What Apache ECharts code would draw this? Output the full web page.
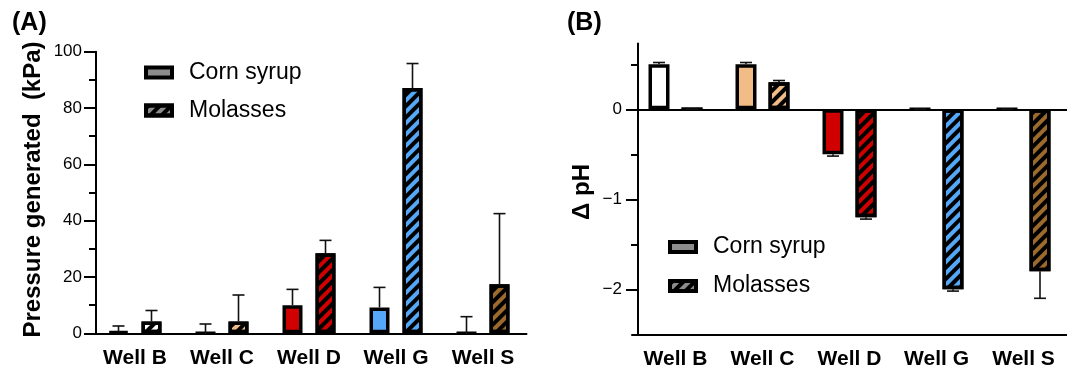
<!DOCTYPE html>
<html>
<head>
<meta charset="utf-8">
<script src="https://cdn.jsdelivr.net/npm/echarts@6/dist/echarts.min.js"></script>
<style>
html,body{margin:0;padding:0;background:#fff;}
#c{width:1067px;height:371px;}
</style>
</head>
<body>
<div id="c"></div>
<script>
// ---- data ----
var wells = ['Well B', 'Well C', 'Well D', 'Well G', 'Well S'];
var wellColors = ['#FFFFFF', '#F2BC86', '#D10000', '#55A8F7', '#9B6A2C'];
var seriesNames = ['Corn syrup', 'Molasses'];

var pressureCorn = [0.5, 0, 10.0, 9.2, 0];
var pressureCornErr = [2.1, 3.3, 5.6, 7.1, 5.9];
var pressureMol = [4.2, 4.2, 28.4, 87.1, 17.4];
var pressureMolErr = [3.9, 9.4, 4.6, 8.7, 25.1];

var phCorn = [0.5, 0.5, -0.5, 0, 0];
var phCornErr = [0.02, 0.02, 0.02, 0, 0];
var phMol = [0, 0.3, -1.2, -2.0, -1.8];
var phMolErr = [0, 0.02, 0.02, 0.02, 0.3];

var phMajorTicks = [0, -1, -2];
var phMinorTicks = [0.5, -0.5, -1.5];

// ---- style ----
var FONT = 'Liberation Sans, Arial, Helvetica, sans-serif';
var hatch = {symbol: 'rect', symbolSize: 1, dashArrayX: [1, 0], dashArrayY: [3.5, 3.5], rotation: -Math.PI / 4, color: '#000'};
var BW = 20, GAP = 13;      // panel A bar width / gap (px)
var BW2 = 21, GAP2 = 12;    // panel B

function coloredData(vals) {
  return vals.map(function (v, i) { return {value: v, itemStyle: {color: wellColors[i]}}; });
}
function errSeries(name, vals, errs, xi, yi, off) {
  return {
    type: 'custom', name: name + ' err', xAxisIndex: xi, yAxisIndex: yi, z: 5,
    data: vals.map(function (v, i) { return [i, v, errs[i]]; }),
    renderItem: function (params, api) {
      var i = api.value(0), v = api.value(1), e = api.value(2);
      var end = v >= 0 ? v + e : v - e;
      var p0 = api.coord([i, v]), p1 = api.coord([i, end]);
      var x = p0[0] + off;
      return {type: 'group', children: [
        {type: 'line', shape: {x1: x, y1: p0[1], x2: x, y2: p1[1]}, style: {stroke: '#111', lineWidth: 1.6}},
        {type: 'line', shape: {x1: x - 6, y1: p1[1], x2: x + 6, y2: p1[1]}, style: {stroke: '#111', lineWidth: 1.6}}
      ]};
    }
  };
}
function barSeries(name, vals, xi, yi, bw, gap, decal) {
  var s = {
    type: 'bar', name: name, xAxisIndex: xi, yAxisIndex: yi,
    barWidth: bw, barGap: (gap / bw * 100) + '%',
    data: coloredData(vals),
    itemStyle: {borderColor: '#000', borderWidth: 3.5}
  };
  if (decal) s.itemStyle.decal = decal;
  return s;
}
var axisLineStyle = {color: '#000', width: 2};
var tickStyle = {width: 2, color: '#000'};
function legendCfg(left, top, gap) {
  return {orient: 'vertical', left: left, top: top, padding: 0, icon: 'rect',
    itemWidth: 26, itemHeight: 10, itemGap: gap,
    textStyle: {fontSize: 23, color: '#000', fontFamily: FONT, padding: [0, 0, 0, 12]},
    data: seriesNames.map(function (n) {
      return {name: n, icon: 'rect', itemStyle: {color: '#8c8c8c', borderColor: '#000', borderWidth: 4}};
    })};
}
function catAxis(grid, extra) {
  var a = {type: 'category', gridIndex: grid, data: wells,
    axisLine: {onZero: false, lineStyle: axisLineStyle},
    axisTick: {alignWithLabel: true, length: 10, lineStyle: tickStyle},
    axisLabel: {fontSize: 21, fontWeight: 'bold', color: '#000', margin: 14, fontFamily: FONT}};
  for (var k in extra) a[k] = extra[k];
  return a;
}
function minusFmt(v) { return v < 0 ? '\u2212' + (-v) : String(v); }

var option = {
  animation: false,
  textStyle: {fontFamily: FONT},
  graphic: [
    {type: 'text', left: 12, top: 11, style: {text: '(A)', font: 'bold 25px ' + FONT, fill: '#000'}},
    {type: 'text', left: 567, top: 11, style: {text: '(B)', font: 'bold 25px ' + FONT, fill: '#000'}}
  ],
  legend: [legendCfg(144, 61, 15), legendCfg(668, 235.5, 16)],
  grid: [
    {left: 91.5, width: 435, top: 51.7, height: 281.6},
    {left: 632, width: 445, top: 43.6, height: 290.7}
  ],
  xAxis: [
    catAxis(0, {}),
    catAxis(1, {position: 'bottom'}),
    {type: 'category', gridIndex: 1, data: wells,
     axisLine: {onZero: true, lineStyle: axisLineStyle}, axisTick: {show: false}, axisLabel: {show: false}}
  ],
  yAxis: [
    {type: 'value', gridIndex: 0, min: 0, max: 100, interval: 20, offset: -4.5,
     name: 'Pressure generated  (kPa)', nameLocation: 'middle', nameGap: 51,
     nameTextStyle: {fontSize: 24, fontWeight: 'bold', color: '#000', fontFamily: FONT, padding: [0, 0, 0, 6]},
     splitLine: {show: false},
     axisLine: {show: true, lineStyle: axisLineStyle},
     axisTick: {show: true, length: 12, lineStyle: tickStyle},
     minorTick: {show: true, splitNumber: 2, length: 7, lineStyle: tickStyle},
     axisLabel: {fontSize: 17, color: '#000', margin: 14, fontFamily: FONT}},
    {type: 'value', gridIndex: 1, position: 'left', min: -2.5, max: 0.73, offset: -6,
     name: 'Δ pH', nameLocation: 'middle', nameGap: 44,
     nameTextStyle: {fontSize: 24, fontWeight: 'bold', color: '#000', fontFamily: FONT, padding: [0, 6, 0, 0]},
     splitLine: {show: false},
     axisLine: {show: true, onZero: false, lineStyle: axisLineStyle},
     axisTick: {show: true, length: 12, customValues: phMajorTicks, lineStyle: tickStyle},
     axisLabel: {fontSize: 17, color: '#000', margin: 16, fontFamily: FONT, customValues: phMajorTicks, formatter: minusFmt}},
    {type: 'value', gridIndex: 1, position: 'left', min: -2.5, max: 0.73, offset: -6,
     splitLine: {show: false},
     axisLine: {show: false, onZero: false},
     axisTick: {show: true, length: 7, customValues: phMinorTicks, lineStyle: tickStyle},
     axisLabel: {show: false}}
  ],
  series: [
    barSeries(seriesNames[0], pressureCorn, 0, 0, BW, GAP, null),
    barSeries(seriesNames[1], pressureMol, 0, 0, BW, GAP, hatch),
    errSeries(seriesNames[0], pressureCorn, pressureCornErr, 0, 0, -(BW + GAP) / 2),
    errSeries(seriesNames[1], pressureMol, pressureMolErr, 0, 0, (BW + GAP) / 2),
    barSeries(seriesNames[0], phCorn, 1, 1, BW2, GAP2, null),
    barSeries(seriesNames[1], phMol, 1, 1, BW2, GAP2, hatch),
    errSeries(seriesNames[0], phCorn, phCornErr, 1, 1, -(BW2 + GAP2) / 2),
    errSeries(seriesNames[1], phMol, phMolErr, 1, 1, (BW2 + GAP2) / 2)
  ]
};
var chart = echarts.init(document.getElementById('c'), null, {renderer: 'canvas'});
chart.setOption(option);
</script>
</body>
</html>
